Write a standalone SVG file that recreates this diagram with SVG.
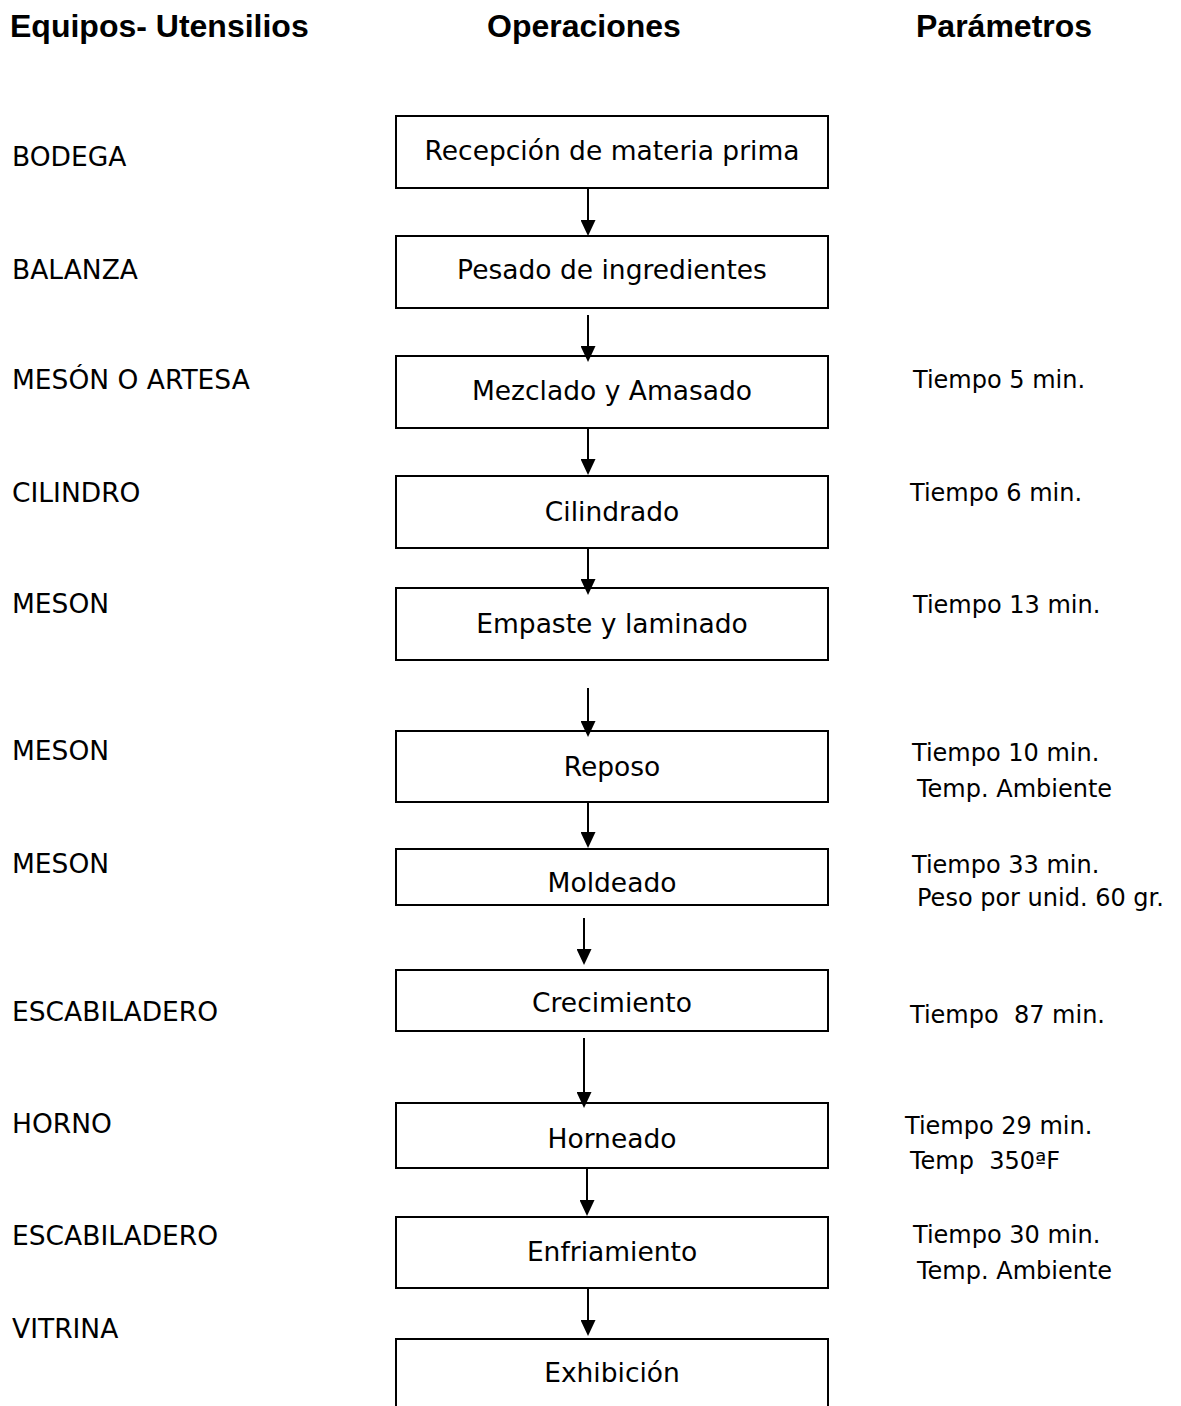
<svg xmlns="http://www.w3.org/2000/svg" width="1181" height="1406" viewBox="0 0 1181 1406">
  <style>
    .hdr { font-family: "Liberation Sans", Arial, sans-serif; font-weight: bold; font-size: 32px; fill: #000; }
    .eq { font-family: "DejaVu Sans", sans-serif; font-size: 26.5px; fill: #000; }
    .op { font-family: "DejaVu Sans", sans-serif; font-size: 26.5px; fill: #000; text-anchor: middle; }
    .par { font-family: "DejaVu Sans", sans-serif; font-size: 24px; fill: #000; }
    .box { fill: #fff; stroke: #000; stroke-width: 2; }
    .flow { stroke: #000; stroke-width: 2; fill: none; marker-end: url(#arrow); }
  </style>
  <defs>
    <marker id="arrow" markerUnits="userSpaceOnUse" viewBox="0 0 16 15" markerWidth="16" markerHeight="15" refX="12" refY="7.5" orient="auto">
      <path d="M0,0 L16,7.5 L0,15 z" fill="#000"/>
    </marker>
  </defs>
  <rect width="1181" height="1406" fill="#fff"/>

  <!-- column headings -->
  <g id="headers">
    <text class="hdr" x="10" y="37">Equipos- Utensilios</text>
    <text class="hdr" x="487" y="37">Operaciones</text>
    <text class="hdr" x="916" y="37">Parámetros</text>
  </g>

  <!-- equipment / utensils column -->
  <g id="equipos">
    <text class="eq" x="12" y="166">BODEGA</text>
    <text class="eq" x="12" y="279">BALANZA</text>
    <text class="eq" x="12" y="389">MESÓN O ARTESA</text>
    <text class="eq" x="12" y="502">CILINDRO</text>
    <text class="eq" x="12" y="613">MESON</text>
    <text class="eq" x="12" y="760">MESON</text>
    <text class="eq" x="12" y="873">MESON</text>
    <text class="eq" x="12" y="1021">ESCABILADERO</text>
    <text class="eq" x="12" y="1133">HORNO</text>
    <text class="eq" x="12" y="1245">ESCABILADERO</text>
    <text class="eq" x="12" y="1338">VITRINA</text>
  </g>

  <!-- operations -->
  <g id="op-recepcion">
    <rect class="box" x="396" y="116" width="432" height="72"/>
    <text class="op" x="612" y="160">Recepción de materia prima</text>
  </g>
  <g id="op-pesado">
    <rect class="box" x="396" y="236" width="432" height="72"/>
    <text class="op" x="612" y="279">Pesado de ingredientes</text>
  </g>
  <g id="op-mezclado">
    <rect class="box" x="396" y="356" width="432" height="72"/>
    <text class="op" x="612" y="400">Mezclado y Amasado</text>
  </g>
  <g id="op-cilindrado">
    <rect class="box" x="396" y="476" width="432" height="72"/>
    <text class="op" x="612" y="521">Cilindrado</text>
  </g>
  <g id="op-empaste">
    <rect class="box" x="396" y="588" width="432" height="72"/>
    <text class="op" x="612" y="633">Empaste y laminado</text>
  </g>
  <g id="op-reposo">
    <rect class="box" x="396" y="731" width="432" height="71"/>
    <text class="op" x="612" y="776">Reposo</text>
  </g>
  <g id="op-moldeado">
    <rect class="box" x="396" y="849" width="432" height="56"/>
    <text class="op" x="612" y="892">Moldeado</text>
  </g>
  <g id="op-crecimiento">
    <rect class="box" x="396" y="970" width="432" height="61"/>
    <text class="op" x="612" y="1012">Crecimiento</text>
  </g>
  <g id="op-horneado">
    <rect class="box" x="396" y="1103" width="432" height="65"/>
    <text class="op" x="612" y="1148">Horneado</text>
  </g>
  <g id="op-enfriamiento">
    <rect class="box" x="396" y="1217" width="432" height="71"/>
    <text class="op" x="612" y="1261">Enfriamiento</text>
  </g>
  <g id="op-exhibicion">
    <rect class="box" x="396" y="1339" width="432" height="80"/>
    <text class="op" x="612" y="1382">Exhibición</text>
  </g>

  <!-- connectors -->
  <g id="connectors">
    <line class="flow" x1="588" y1="189" x2="588" y2="232"/>
    <line class="flow" x1="588" y1="315" x2="588" y2="358"/>
    <line class="flow" x1="588" y1="429" x2="588" y2="471"/>
    <line class="flow" x1="588" y1="549" x2="588" y2="591"/>
    <line class="flow" x1="588" y1="688" x2="588" y2="733"/>
    <line class="flow" x1="588" y1="803" x2="588" y2="844"/>
    <line class="flow" x1="584" y1="918" x2="584" y2="961"/>
    <line class="flow" x1="584" y1="1038" x2="584" y2="1104"/>
    <line class="flow" x1="587" y1="1169" x2="587" y2="1212"/>
    <line class="flow" x1="588" y1="1289" x2="588" y2="1332"/>
  </g>

  <!-- parameters column -->
  <g id="parametros">
    <text class="par" x="913" y="388">Tiempo 5 min.</text>
    <text class="par" x="910" y="501">Tiempo 6 min.</text>
    <text class="par" x="913" y="613">Tiempo 13 min.</text>
    <text class="par" x="912" y="761">Tiempo 10 min.</text>
    <text class="par" x="917" y="797">Temp. Ambiente</text>
    <text class="par" x="912" y="873">Tiempo 33 min.</text>
    <text class="par" x="917" y="906">Peso por unid. 60 gr.</text>
    <text class="par" x="910" y="1023" xml:space="preserve">Tiempo  87 min.</text>
    <text class="par" x="905" y="1134">Tiempo 29 min.</text>
    <text class="par" x="910" y="1169" xml:space="preserve">Temp  350ªF</text>
    <text class="par" x="913" y="1243">Tiempo 30 min.</text>
    <text class="par" x="917" y="1279">Temp. Ambiente</text>
  </g>
</svg>
